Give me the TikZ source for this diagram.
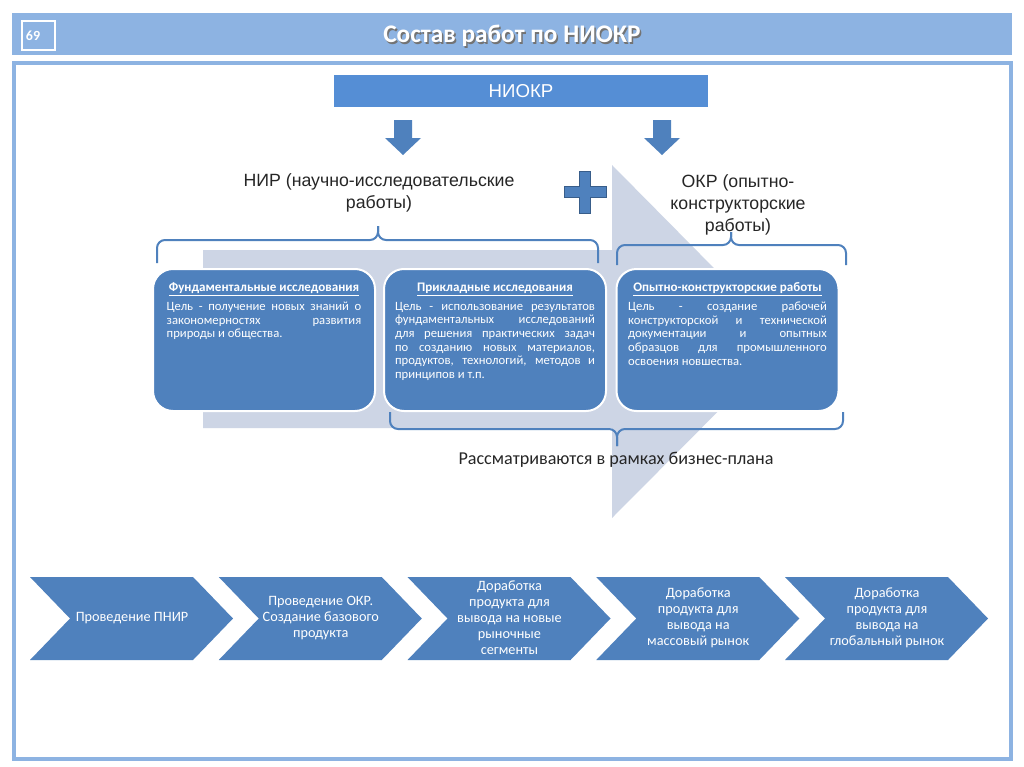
\documentclass[tikz,border=0pt]{standalone}
\usepackage{fontspec}
\setmainfont{Carlito}
\newfontfamily\arialfont{Liberation Sans}
\usetikzlibrary{positioning}

\definecolor{hdrblue}{RGB}{141,179,226}
\definecolor{boxblue}{RGB}{79,129,189}
\definecolor{barblue}{RGB}{85,142,213}
\definecolor{ghost}{RGB}{205,213,229}
\definecolor{darkblue}{RGB}{56,93,138}

\begin{document}
\begin{tikzpicture}[x=0.75pt,y=-0.75pt,
    every node/.style={inner sep=0pt},
    goalbox/.style={rounded corners=15pt,fill=boxblue,draw=white,line width=1.5pt,
      minimum width=166.5pt,minimum height=106.5pt},
    goalhead/.style={text=white,text height=7.5pt,text depth=2.5pt,
      font=\bfseries\fontsize{9.8}{10}\selectfont},
    goaltext/.style={text=white,text width=149pt,align=justify,
      font=\fontsize{9.5}{10.2}\selectfont},
    headtext/.style={text=black!85,align=center,font=\arialfont\fontsize{13.3}{16.5}\selectfont},
    curly/.style={draw=boxblue,line width=1.5pt,rounded corners=6pt},
    chevron/.style={fill=boxblue},
    chevtext/.style={text=white,align=center,font=\fontsize{10.7}{12}\selectfont},
    downarrow/.style={fill=boxblue}]
  \useasboundingbox (0,0) rectangle (1024,767);
  \fill[white] (0,0) rectangle (1024,767);

  % header
  \fill[hdrblue] (12,13) rectangle (1012,55);
  \draw[white,line width=1.5pt] (22,21) rectangle (55,50);
  \node[text=white,font=\bfseries\fontsize{10.5}{12}\selectfont] (pagenum) at (33,36) {69};
  \node[text=black!55,font=\bfseries\fontsize{19}{22}\selectfont] at (513.5,37.5) {Состав работ по НИОКР};
  \node[text=white,font=\bfseries\fontsize{19}{22}\selectfont] (title) at (512,36) {Состав работ по НИОКР};
  \draw[hdrblue,line width=2.5pt,fill=white] (14,63) rectangle (1011,759);

  \node[fill=barblue,minimum width=280.5pt,minimum height=24pt,text=white,
    font=\arialfont\fontsize{14}{16}\selectfont] (niokr) at (521,91) {НИОКР};
  \foreach \x in {403,662}
    \fill[downarrow] (\x-9,120) -- (\x+9,120) -- (\x+9,138) -- (\x+18,138) -- (\x,155)
      -- (\x-18,138) -- (\x-9,138) -- cycle;
  \fill[boxblue,draw=darkblue,line width=0.75pt] (579.5,171) -- (590.5,171) -- (590.5,186.5)
    -- (606,186.5) -- (606,197.5) -- (590.5,197.5) -- (590.5,213) -- (579.5,213)
    -- (579.5,197.5) -- (564,197.5) -- (564,186.5) -- (579.5,186.5) -- cycle;

  % big light arrow behind the boxes
  \fill[ghost] (203,250) -- (612,250) -- (612,165) -- (787,342) -- (612,518)
    -- (612,428) -- (203,428) -- cycle;

  \node[headtext] (nir) at (379,193) {НИР (научно-исследовательские\\работы)};
  \node[headtext] (okr) at (738,205) {ОКР (опытно-\\конструкторские\\работы)};

  % braces
  \coordinate (nirtip) at (378,226);
  \coordinate (okrtip) at (731,232);
  \coordinate (plantip) at (617,446);
  \draw[curly] (157,263) -- (157,240) -- (378,240) -- (nirtip);
  \draw[curly] (598,263) -- (598,240) -- (378,240) -- (nirtip);
  \draw[curly] (617,265) -- (617,245) -- (731,245) -- (okrtip);
  \draw[curly] (846,265) -- (846,245) -- (731,245) -- (okrtip);
  \draw[curly] (390,412) -- (390,429) -- (617,429) -- (plantip);
  \draw[curly] (843,412) -- (843,429) -- (617,429) -- (plantip);

  \node[goalbox] (fund) at (264,340) {};
  \node[goalbox] (appl) at (495,340) {};
  \node[goalbox] (devl) at (727.5,340) {};

  \node[goalhead,below=10pt of fund.north] (fundhead) {\underline{Фундаментальные исследования}};
  \node[goaltext,text width=146pt,below=5pt of fundhead] (fundtext)
    {Цель - получение новых знаний о\linebreak закономерностях развития\linebreak
     природы и общества.};
  \node[goalhead,below=10pt of appl.north] (applhead) {\underline{Прикладные исследования}};
  \node[goaltext,text width=150pt,below=5pt of applhead] (appltext)
    {Цель - использование результатов фундаментальных исследований для решения
     практических задач по созданию новых материалов, продуктов, технологий, методов и
     принципов и т.п.};
  \node[goalhead,below=10pt of devl.north] (devlhead) {\underline{Опытно-конструкторские работы}};
  \node[goaltext,below=5pt of devlhead] (devltext)
    {Цель - создание рабочей\linebreak конструкторской и технической\linebreak
     документации и опытных\linebreak образцов для промышленного\linebreak
     освоения новшества.};

  \node[text=black!85,font=\fontsize{13.6}{15}\selectfont] (plan) at (616,460)
    {Рассматриваются в рамках бизнес-плана};

  % stages
  \foreach \t [count=\i from 0] in {{Проведение ПНИР},
      {Проведение ОКР.\\Создание базового\\продукта},
      {Доработка\\продукта для\\вывода на новые\\рыночные\\сегменты},
      {Доработка\\продукта для\\вывода на\\массовый рынок},
      {Доработка\\продукта для\\вывода на\\глобальный рынок}} {
    \fill[chevron] ({30+188.75*\i},577) -- ++(163,0) -- ++(40,41.5) -- ++(-40,41.5)
      -- ++(-163,0) -- ++(40,-41.5) -- cycle;
    \node[chevtext] (stage\i) at ({132+188.75*\i},618) {\t};
  }
\end{tikzpicture}
\end{document}
